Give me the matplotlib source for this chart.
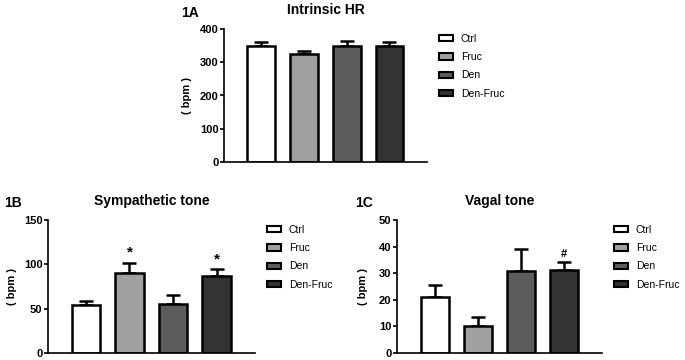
import matplotlib.pyplot as plt
from matplotlib.patches import Patch

plt.rcParams['font.family'] = ['Liberation Sans', 'DejaVu Sans']

groups = ["Ctrl", "Fruc", "Den", "Den-Fruc"]
colors = ["#ffffff", "#a0a0a0", "#5c5c5c", "#333333"]

hr_mean = [350, 325, 349, 350]
hr_err = [11, 9, 15, 11]

symp_mean = [54, 90, 55, 87]
symp_err = [5, 12, 10, 8]
symp_marks = ["", "*", "", "*"]

vagal_mean = [21, 10.3, 31, 31.2]
vagal_err = [4.4, 3.4, 8.1, 3.0]
vagal_marks = ["", "", "", "#"]

fig = plt.figure(figsize=(6.85, 3.6), dpi=100)


def panel(rect, means, errs, ymax, step, title, tag, tag_xy, ylab_x, marks=None, mark_size=10):
    ax = fig.add_axes(rect)
    x = list(range(len(groups)))
    ax.bar(x, means, width=0.65, color=colors, edgecolor="black", linewidth=1.8, zorder=2)
    ax.errorbar(x, means, yerr=[[0] * len(errs), errs], fmt="none", ecolor="black",
                elinewidth=1.8, capsize=5, capthick=1.8, zorder=1)
    if marks:
        for xi, m, e, mk in zip(x, means, errs, marks):
            if mk:
                ax.text(xi, m + e + ymax * 0.02, mk, ha="center", va="bottom",
                        fontsize=mark_size, fontweight="bold")
    ax.set_xlim(-0.87, 3.88)
    ax.set_ylim(0, ymax)
    ax.set_yticks(range(0, ymax + 1, step))
    ax.set_xticks([])
    for s in ["top", "right"]:
        ax.spines[s].set_visible(False)
    ax.spines["left"].set_linewidth(1.2)
    ax.spines["bottom"].set_linewidth(1.2)
    ax.tick_params(axis="y", length=3, width=1.2, labelsize=8, pad=1)
    for lab in ax.get_yticklabels():
        lab.set_fontweight("bold")
    ax.set_title(title, fontsize=10, fontweight="bold", pad=11)
    fig.text(tag_xy[0] / 685, 1 - tag_xy[1] / 360, tag, fontsize=10, fontweight="bold",
             ha="left", va="center")
    fig.text(ylab_x / 685, rect[1] + rect[3] / 2, "( bpm )", rotation=90, fontsize=8,
             fontweight="bold", ha="center", va="center")
    handles = [Patch(facecolor=c, edgecolor="black", linewidth=1.5) for c in colors]
    ax.legend(handles, groups, loc="upper left", bbox_to_anchor=(1.04, 0.995), frameon=False,
              fontsize=7.5, handlelength=1.3, handleheight=0.6, labelspacing=0.8,
              handletextpad=0.75, borderaxespad=0)
    return ax


panel([224 / 685, 1 - 162 / 360, 203 / 685, 133 / 360], hr_mean, hr_err, 400, 100,
      "Intrinsic HR", "1A", (181, 13), 187)
panel([48 / 685, 1 - 353 / 360, 207 / 685, 133 / 360], symp_mean, symp_err, 150, 50,
      "Sympathetic tone", "1B", (4, 203), 12, symp_marks, 11)
panel([397 / 685, 1 - 353 / 360, 205 / 685, 133 / 360], vagal_mean, vagal_err, 50, 10,
      "Vagal tone", "1C", (355, 203), 363, vagal_marks, 8)

fig.savefig("out.png", dpi=100)
